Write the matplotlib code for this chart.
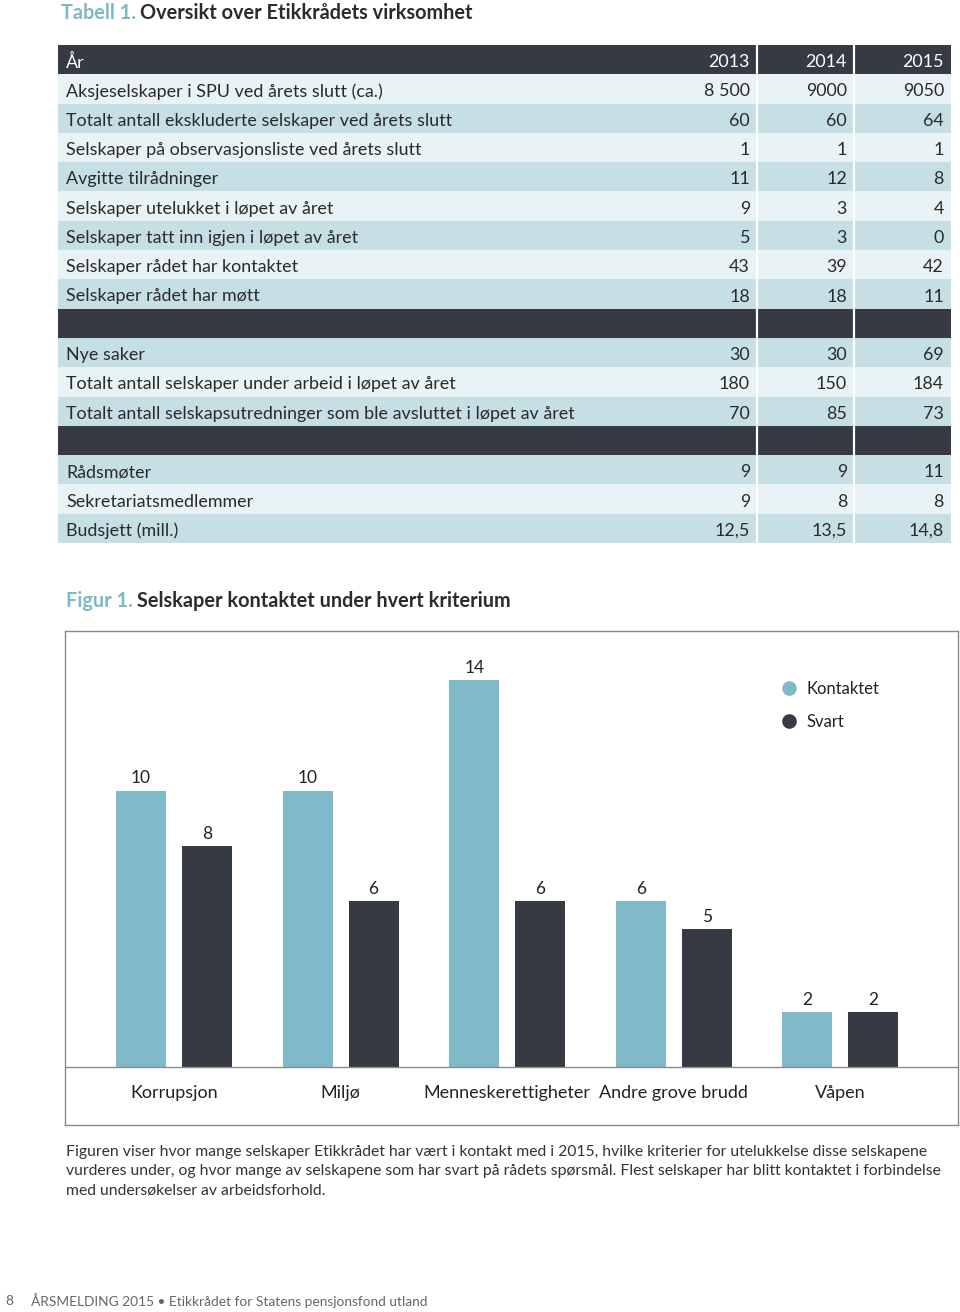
import matplotlib
matplotlib.use("Agg")
import matplotlib.pyplot as plt
from matplotlib.patches import Rectangle
from matplotlib.lines import Line2D

plt.rcParams['font.family'] = ['Lato', 'DejaVu Sans']

# ---------------- data ----------------
years = ["2013", "2014", "2015"]
row_labels = [
    "Aksjeselskaper i SPU ved årets slutt (ca.)",
    "Totalt antall ekskluderte selskaper ved årets slutt",
    "Selskaper på observasjonsliste ved årets slutt",
    "Avgitte tilrådninger",
    "Selskaper utelukket i løpet av året",
    "Selskaper tatt inn igjen i løpet av året",
    "Selskaper rådet har kontaktet",
    "Selskaper rådet har møtt",
    None,
    "Nye saker",
    "Totalt antall selskaper under arbeid i løpet av året",
    "Totalt antall selskapsutredninger som ble avsluttet i løpet av året",
    None,
    "Rådsmøter",
    "Sekretariatsmedlemmer",
    "Budsjett (mill.)",
]
col_2013 = ["8 500", "60", "1", "11", "9", "5", "43", "18", None, "30", "180", "70", None, "9", "9", "12,5"]
col_2014 = ["9000", "60", "1", "12", "3", "3", "39", "18", None, "30", "150", "85", None, "9", "8", "13,5"]
col_2015 = ["9050", "64", "1", "8", "4", "0", "42", "11", None, "69", "184", "73", None, "11", "8", "14,8"]

categories = ["Korrupsjon", "Miljø", "Menneskerettigheter", "Andre grove brudd", "Våpen"]
kontaktet = [10, 10, 14, 6, 2]
svart = [8, 6, 6, 5, 2]

caption = ("Figuren viser hvor mange selskaper Etikkrådet har vært i kontakt med i 2015, hvilke kriterier for utelukkelse disse selskapene\n"
           "vurderes under, og hvor mange av selskapene som har svart på rådets spørsmål. Flest selskaper har blitt kontaktet i forbindelse\n"
           "med undersøkelser av arbeidsforhold.")
footer_num = "8"
footer_text = "ÅRSMELDING 2015 • Etikkrådet for Statens pensjonsfond utland"

# ---------------- style ----------------
DARK = "#363a43"
TEAL = "#80b9c7"
LIGHT_ROW = "#e9f2f4"
MED_ROW = "#c6dfe5"
TXT = "#2a2a2a"
ACCENT = "#7fb8c4"

W, H = 960, 1312
fig = plt.figure(figsize=(W / 100, H / 100), dpi=100)
bg = fig.add_axes([0, 0, 1, 1])
bg.set_xlim(0, W)
bg.set_ylim(H, 0)
bg.axis("off")

# ---------------- titles ----------------
renderer = fig.canvas.get_renderer()

def two_part_title(x, y, a, b, size=14.3):
    t1 = bg.text(x, y, a, color=ACCENT, fontsize=size, fontweight="bold", va="center", ha="left")
    bb = t1.get_window_extent(renderer=renderer)
    x2 = x + bb.width + 4
    bg.text(x2, y, b, color="#2b2b2b", fontsize=size, fontweight="bold", va="center", ha="left")

two_part_title(61, 13, "Tabell 1.", "Oversikt over Etikkrådets virksomhet")
two_part_title(66, 601, "Figur 1.", "Selskaper kontaktet under hvert kriterium")

# ---------------- table ----------------
t_left, t_right = 58, 951
col_edges = [t_left, 757, 854, t_right]
t_top, t_bottom = 45, 543
n_rows = len(row_labels) + 1
rh = (t_bottom - t_top) / n_rows
fs_tab = 12.9
dy = 2.5

# header
bg.add_patch(Rectangle((t_left, t_top), t_right - t_left, rh, facecolor=DARK, edgecolor="none"))
bg.text(66, t_top + rh / 2 + dy, "År", color="white", fontsize=fs_tab, va="center", ha="left")
for j, yr in enumerate(years):
    bg.text(col_edges[j + 1] - 7, t_top + rh / 2 + dy, yr, color="white", fontsize=fs_tab, va="center", ha="right")

cols = [col_2013, col_2014, col_2015]
for i, lab in enumerate(row_labels):
    y0 = t_top + (i + 1) * rh
    if lab is None:
        fc = DARK
    else:
        fc = MED_ROW if i % 2 == 1 else LIGHT_ROW
    bg.add_patch(Rectangle((t_left, y0), t_right - t_left, rh, facecolor=fc, edgecolor="none"))
    if lab is not None:
        bg.text(66, y0 + rh / 2 + dy, lab, color=TXT, fontsize=fs_tab, va="center", ha="left")
        for j in range(3):
            bg.text(col_edges[j + 1] - 7, y0 + rh / 2 + dy, cols[j][i], color=TXT, fontsize=fs_tab,
                    va="center", ha="right")

for xe in col_edges[1:3]:
    bg.plot([xe, xe], [t_top, t_bottom], color="white", lw=1.6)

# ---------------- bar chart ----------------
bx0, bx1, by0, by1 = 65, 958, 631, 1125
ax = fig.add_axes([bx0 / W, 1 - by1 / H, (bx1 - bx0) / W, (by1 - by0) / H])
base_px = 1067
unit_px = 27.64
ax.set_ylim(-(by1 - base_px) / unit_px, (base_px - by0) / unit_px)
gap_px = 166.6
ax.set_xlim(-(174 - bx0) / gap_px, (bx1 - 174) / gap_px)

xs = list(range(len(categories)))
off = 0.198
bw = 0.30
b1 = ax.bar([x - off for x in xs], kontaktet, width=bw, color=TEAL, zorder=2)
b2 = ax.bar([x + off for x in xs], svart, width=bw, color=DARK, zorder=2)
for bars, vals in ((b1, kontaktet), (b2, svart)):
    for r, v in zip(bars, vals):
        ax.annotate(str(v), (r.get_x() + r.get_width() / 2, v), xytext=(0, 3), textcoords="offset points",
                    ha="center", va="bottom", fontsize=12.5, color="#222222")

ax.axhline(0, color="#8a8a8a", lw=1.0, zorder=3)
for x, c in zip(xs, categories):
    ax.text(x, -26 / unit_px, c, ha="center", va="center", fontsize=13, color="#222222")

ax.set_xticks([])
ax.set_yticks([])
for s in ax.spines.values():
    s.set_color("#8a8a8a")
    s.set_linewidth(1.0)

handles = [Line2D([], [], marker="o", ls="none", markersize=10.5, color=TEAL, markeredgewidth=0),
           Line2D([], [], marker="o", ls="none", markersize=10.5, color=DARK, markeredgewidth=0)]
leg = ax.legend(handles, ["Kontaktet", "Svart"], loc="center left",
                bbox_to_anchor=((780.7 - bx0) / (bx1 - bx0), (by1 - 705.5) / (by1 - by0)),
                frameon=False, fontsize=12, handlelength=1.0, handletextpad=0.55,
                labelspacing=1.04, borderpad=0, borderaxespad=0)
for t in leg.get_texts():
    t.set_color("#222222")

# ---------------- caption & footer ----------------
bg.text(66, 1145, caption, fontsize=11.3, color="#333333", va="top", ha="left", linespacing=1.48)
bg.text(5, 1301, footer_num, fontsize=9.9, color="#666666", va="center", ha="left")
bg.text(31, 1301, footer_text, fontsize=9.9, color="#666666", va="center", ha="left")

fig.savefig("out.png", dpi=100)
